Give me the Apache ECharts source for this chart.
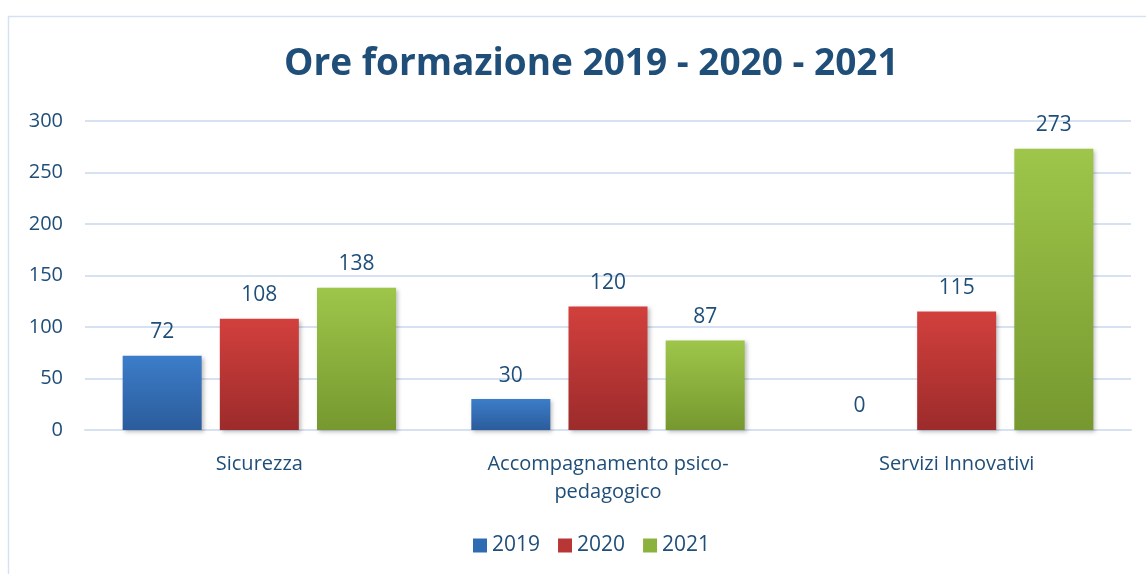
<!DOCTYPE html>
<html lang="it">
<head>
    <meta charset="UTF-8">
    <title>Ore formazione 2019 - 2020 - 2021</title>
    <style>
        * { padding: 0; margin: 0; }
        .box { width: 1146px; height: 574px; background: #fff; }
    </style>
</head>
<body>
    <div class="box" id="myChart"></div>
    <script src="https://cdn.jsdelivr.net/npm/echarts@6/dist/echarts.min.js"></script>
    <script>
        // dati
        const categories = ['Sicurezza', 'Accompagnamento psico-\npedagogico', 'Servizi Innovativi'];
        const years = ['2019', '2020', '2021'];
        const values2019 = [72, 30, 0];
        const values2020 = [108, 120, 115];
        const values2021 = [138, 87, 273];
        const yTicks = [0, 50, 100, 150, 200, 250, 300];

        const textColor = '#1f4e79';
        const font = 'Open Sans';

        function grad(top, bottom) {
            return new echarts.graphic.LinearGradient(0, 0, 0, 1, [
                { offset: 0, color: top },
                { offset: 1, color: bottom }
            ]);
        }

        const colors = [
            grad('#3c7dc9', '#2b5c9c'),
            grad('#d2403d', '#9c2b2b'),
            grad('#9ec64a', '#76982f')
        ];
        const legendColors = ['#2f6bb3', '#b93636', '#8cb23e'];

        const seriesData = [values2019, values2020, values2021];

        let myChart = echarts.init(document.getElementById('myChart'));
        let option = {
            backgroundColor: '#ffffff',
            title: {
                text: 'Ore formazione 2019 - 2020 - 2021',
                left: 279,
                top: 41,
                textStyle: {
                    color: textColor,
                    fontFamily: font,
                    fontWeight: 'bold',
                    fontSize: 37
                }
            },
            graphic: [{
                type: 'rect',
                shape: { x: 8.5, y: 16.5, width: 1200, height: 700 },
                style: { fill: 'none', stroke: '#d6e1f2', lineWidth: 1.5 },
                z: -1
            }],
            legend: {
                bottom: 13,
                left: 468,
                itemWidth: 14,
                itemHeight: 14,
                itemGap: 18,
                icon: 'rect',
                data: years.map((y, i) => ({ name: y, itemStyle: { color: legendColors[i] } })),
                textStyle: { color: textColor, fontFamily: font, fontSize: 21 }
            },
            grid: {
                left: 85,
                right: 15,
                top: 121,
                bottom: 144
            },
            xAxis: {
                type: 'category',
                data: categories,
                axisLine: { lineStyle: { color: '#d6e1f2', width: 2 } },
                axisTick: { show: false },
                axisLabel: {
                    color: textColor,
                    fontFamily: font,
                    fontSize: 20,
                    margin: 20,
                    lineHeight: 28
                }
            },
            yAxis: {
                type: 'value',
                min: yTicks[0],
                max: yTicks[yTicks.length - 1],
                interval: 50,
                axisLine: { show: false },
                axisTick: { show: false },
                axisLabel: {
                    color: textColor,
                    fontFamily: font,
                    fontSize: 20,
                    margin: 22
                },
                splitLine: { lineStyle: { color: '#d6e1f2', width: 2 } }
            },
            series: years.map((y, i) => ({
                name: y,
                type: 'bar',
                barWidth: 79,
                barGap: '23%',
                data: seriesData[i],
                itemStyle: {
                    color: colors[i],
                    shadowColor: 'rgba(0,0,0,0.25)',
                    shadowBlur: 4,
                    shadowOffsetX: 2,
                    shadowOffsetY: 2
                },
                label: {
                    show: true,
                    position: 'top',
                    distance: 13,
                    color: textColor,
                    fontFamily: font,
                    fontSize: 21
                }
            }))
        };
        myChart.setOption(option, true);
    </script>
</body>
</html>
